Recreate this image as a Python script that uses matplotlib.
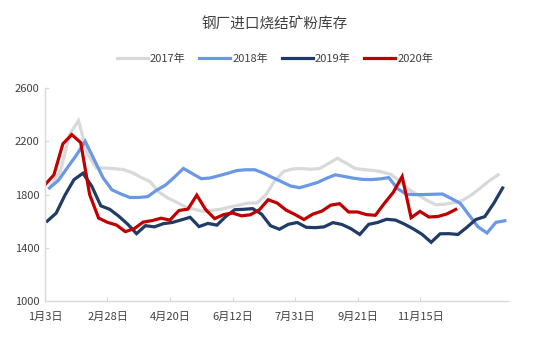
import numpy as np
import matplotlib
matplotlib.use("Agg")
import matplotlib.pyplot as plt

plt.rcParams['font.family'] = ['Noto Sans CJK SC', 'DejaVu Sans']

# 周度库存（万吨），每年从1月第一个周五开始
years = ['2017年', '2018年', '2019年', '2020年']
colors = ['#d9d9d9', '#6a98e6', '#1f3b66', '#c00000']
week_shift = [0.75, 0.5, 0.25, 0.0]   # 各年发布日错开的位置

stock_2017 = [1870, 1980, 2250, 2355, 2105, 1999, 1999, 1994, 1988, 1965,
              1929, 1898, 1819, 1774, 1742, 1706, 1688, 1674, 1682, 1690,
              1707, 1721, 1736, 1736, 1799, 1906, 1974, 1992, 1995, 1990,
              1995, 2033, 2072, 2035, 1995, 1987, 1981, 1969, 1951, 1900,
              1838, 1797, 1757, 1724, 1727, 1738, 1755, 1797, 1848, 1903,
              1948]
stock_2018 = [1849, 1906, 2001, 2094, 2200, 2063, 1926, 1835, 1804, 1778,
              1778, 1784, 1832, 1871, 1931, 1996, 1957, 1919, 1924, 1942,
              1960, 1980, 1986, 1986, 1960, 1927, 1896, 1864, 1851, 1870,
              1890, 1921, 1948, 1936, 1923, 1914, 1912, 1917, 1927, 1843,
              1802, 1799, 1800, 1802, 1804, 1770, 1734, 1645, 1557, 1511,
              1591, 1603]
stock_2019 = [1600, 1660, 1797, 1912, 1960, 1861, 1715, 1689, 1638, 1578,
              1506, 1566, 1557, 1581, 1590, 1609, 1629, 1559, 1583, 1570,
              1635, 1686, 1689, 1694, 1653, 1566, 1539, 1576, 1590, 1554,
              1551, 1557, 1589, 1575, 1544, 1500, 1576, 1590, 1614, 1608,
              1578, 1542, 1500, 1441, 1505, 1506, 1500, 1554, 1612, 1634,
              1733, 1849]
stock_2020 = [1873, 1948, 2180, 2250, 2190, 1800, 1623, 1591, 1571, 1521,
              1544, 1593, 1604, 1622, 1608, 1680, 1690, 1795, 1686, 1619,
              1649, 1661, 1640, 1648, 1685, 1761, 1736, 1683, 1650, 1612,
              1653, 1675, 1720, 1731, 1669, 1669, 1649, 1644, 1733, 1816,
              1935, 1626, 1673, 1631, 1635, 1654, 1688]

tick_labels = ['1月3日', '2月28日', '4月20日', '6月12日', '7月31日', '9月21日', '11月15日']

series = [stock_2017, stock_2018, stock_2019, stock_2020]

fig = plt.figure(figsize=(5.5, 3.39), dpi=100)
ax = fig.add_axes([0.0818, 0.112, 0.8418, 0.6284])

for name, vals, c, sh in zip(years, series, colors, week_shift):
    x = np.arange(len(vals)) + sh
    ax.plot(x, vals, color=c, lw=2.3, label=name, solid_joinstyle='miter')

ax.set_xlim(0, 51.85)
ax.set_ylim(1000, 2600)
ax.set_yticks([1000, 1400, 1800, 2200, 2600])
ax.set_xticks(np.arange(len(tick_labels)) * 7)
ax.set_xticklabels(tick_labels)

for s in ['top', 'right']:
    ax.spines[s].set_visible(False)
for s in ['left', 'bottom']:
    ax.spines[s].set_color('#d9d9d9')
    ax.spines[s].set_linewidth(1.0)
ax.tick_params(direction='in', length=3, color='#d9d9d9', labelsize=8,
               labelcolor='#404040')
ax.tick_params(axis='x', pad=8)
ax.tick_params(axis='y', pad=4)

fig.suptitle('钢厂进口烧结矿粉库存', x=0.5, y=0.948, fontsize=10.5, color='#404040')
fig.legend(loc='center', bbox_to_anchor=(0.5, 0.826), ncol=4, frameon=False,
           fontsize=8, handlelength=2.8, handletextpad=0.2, columnspacing=1.2,
           labelcolor='#404040')

fig.savefig('out.png', dpi=100)
